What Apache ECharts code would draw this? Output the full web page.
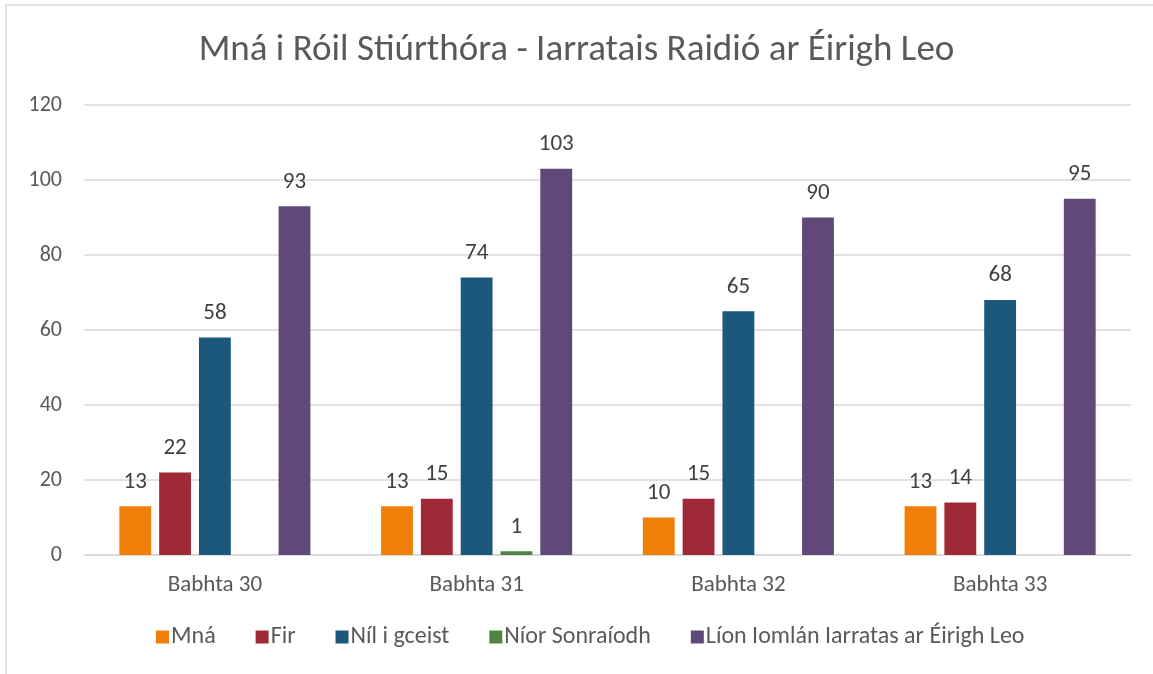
<!DOCTYPE html>
<html>
<head>
<meta charset="utf-8">
<script src="https://cdn.jsdelivr.net/npm/echarts@6/dist/echarts.min.js"></script>
<style>
  html, body { margin: 0; padding: 0; background: #fff; }
  #chart { width: 1153px; height: 674px; }
</style>
</head>
<body>
<div id="chart"></div>
<script>
// 轮次
const categories = ['Babhta 30', 'Babhta 31', 'Babhta 32', 'Babhta 33']
const seriesNames = ['Mná', 'Fir', 'Níl i gceist', 'Níor Sonraíodh', 'Líon Iomlán Iarratas ar Éirigh Leo']
const mna = [13, 13, 10, 13]
const fir = [22, 15, 15, 14]
const nilIGceist = [58, 74, 65, 68]
const niorSonraiodh = [null, 1, null, null]
const lionIomlan = [93, 103, 90, 95]
const yTicks = [0, 20, 40, 60, 80, 100, 120]

const colors = ['#F07F09', '#9F2936', '#1B587C', '#4E8542', '#604878']
const fontFamily = 'Carlito, Calibri, "Open Sans", sans-serif'

const myChart = echarts.init(document.getElementById('chart'))

const makeSeries = (name, data, i) => ({
  name: name,
  type: 'bar',
  data: data,
  barGap: '25%',
  barCategoryGap: '27%',
  itemStyle: { color: colors[i] },
  label: {
    show: true,
    position: 'top',
    distance: 13,
    color: '#404040',
    fontSize: 23,
    fontFamily: fontFamily
  }
})

myChart.setOption({
  animation: false,
  color: colors,
  // 外框
  graphic: [{
    type: 'rect',
    shape: { x: 6, y: 5, width: 1160, height: 680 },
    style: { fill: 'none', stroke: '#d9d9d9', lineWidth: 1.5 },
    silent: true
  }],
  title: {
    text: 'Mná i Róil Stiúrthóra - Iarratais Raidió ar Éirigh Leo',
    left: 'center',
    top: 27,
    textStyle: {
      color: '#595959',
      fontSize: 37,
      fontWeight: 'normal',
      fontFamily: fontFamily
    }
  },
  legend: {
    data: seriesNames,
    bottom: 20,
    left: 151,
    itemWidth: 13,
    itemHeight: 13,
    itemGap: 40,
    icon: 'rect',
    textStyle: { color: '#595959', fontSize: 24, fontFamily: fontFamily, padding: [0, 0, 0, -3] }
  },
  grid: {
    left: 84,
    right: 22,
    top: 105,
    bottom: 119
  },
  xAxis: {
    type: 'category',
    data: categories,
    axisTick: { show: false },
    axisLine: { lineStyle: { color: '#d9d9d9', width: 1.5 } },
    axisLabel: {
      color: '#595959',
      fontSize: 23,
      margin: 19,
      fontFamily: fontFamily
    }
  },
  yAxis: {
    type: 'value',
    min: yTicks[0],
    max: yTicks[yTicks.length - 1],
    interval: 20,
    axisLine: { show: false },
    axisTick: { show: false },
    axisLabel: {
      color: '#595959',
      fontSize: 22,
      margin: 22,
      fontFamily: fontFamily
    },
    splitLine: { lineStyle: { color: '#d9d9d9', width: 1.5 } }
  },
  series: [
    makeSeries(seriesNames[0], mna, 0),
    makeSeries(seriesNames[1], fir, 1),
    makeSeries(seriesNames[2], nilIGceist, 2),
    makeSeries(seriesNames[3], niorSonraiodh, 3),
    makeSeries(seriesNames[4], lionIomlan, 4)
  ]
})
</script>
</body>
</html>
